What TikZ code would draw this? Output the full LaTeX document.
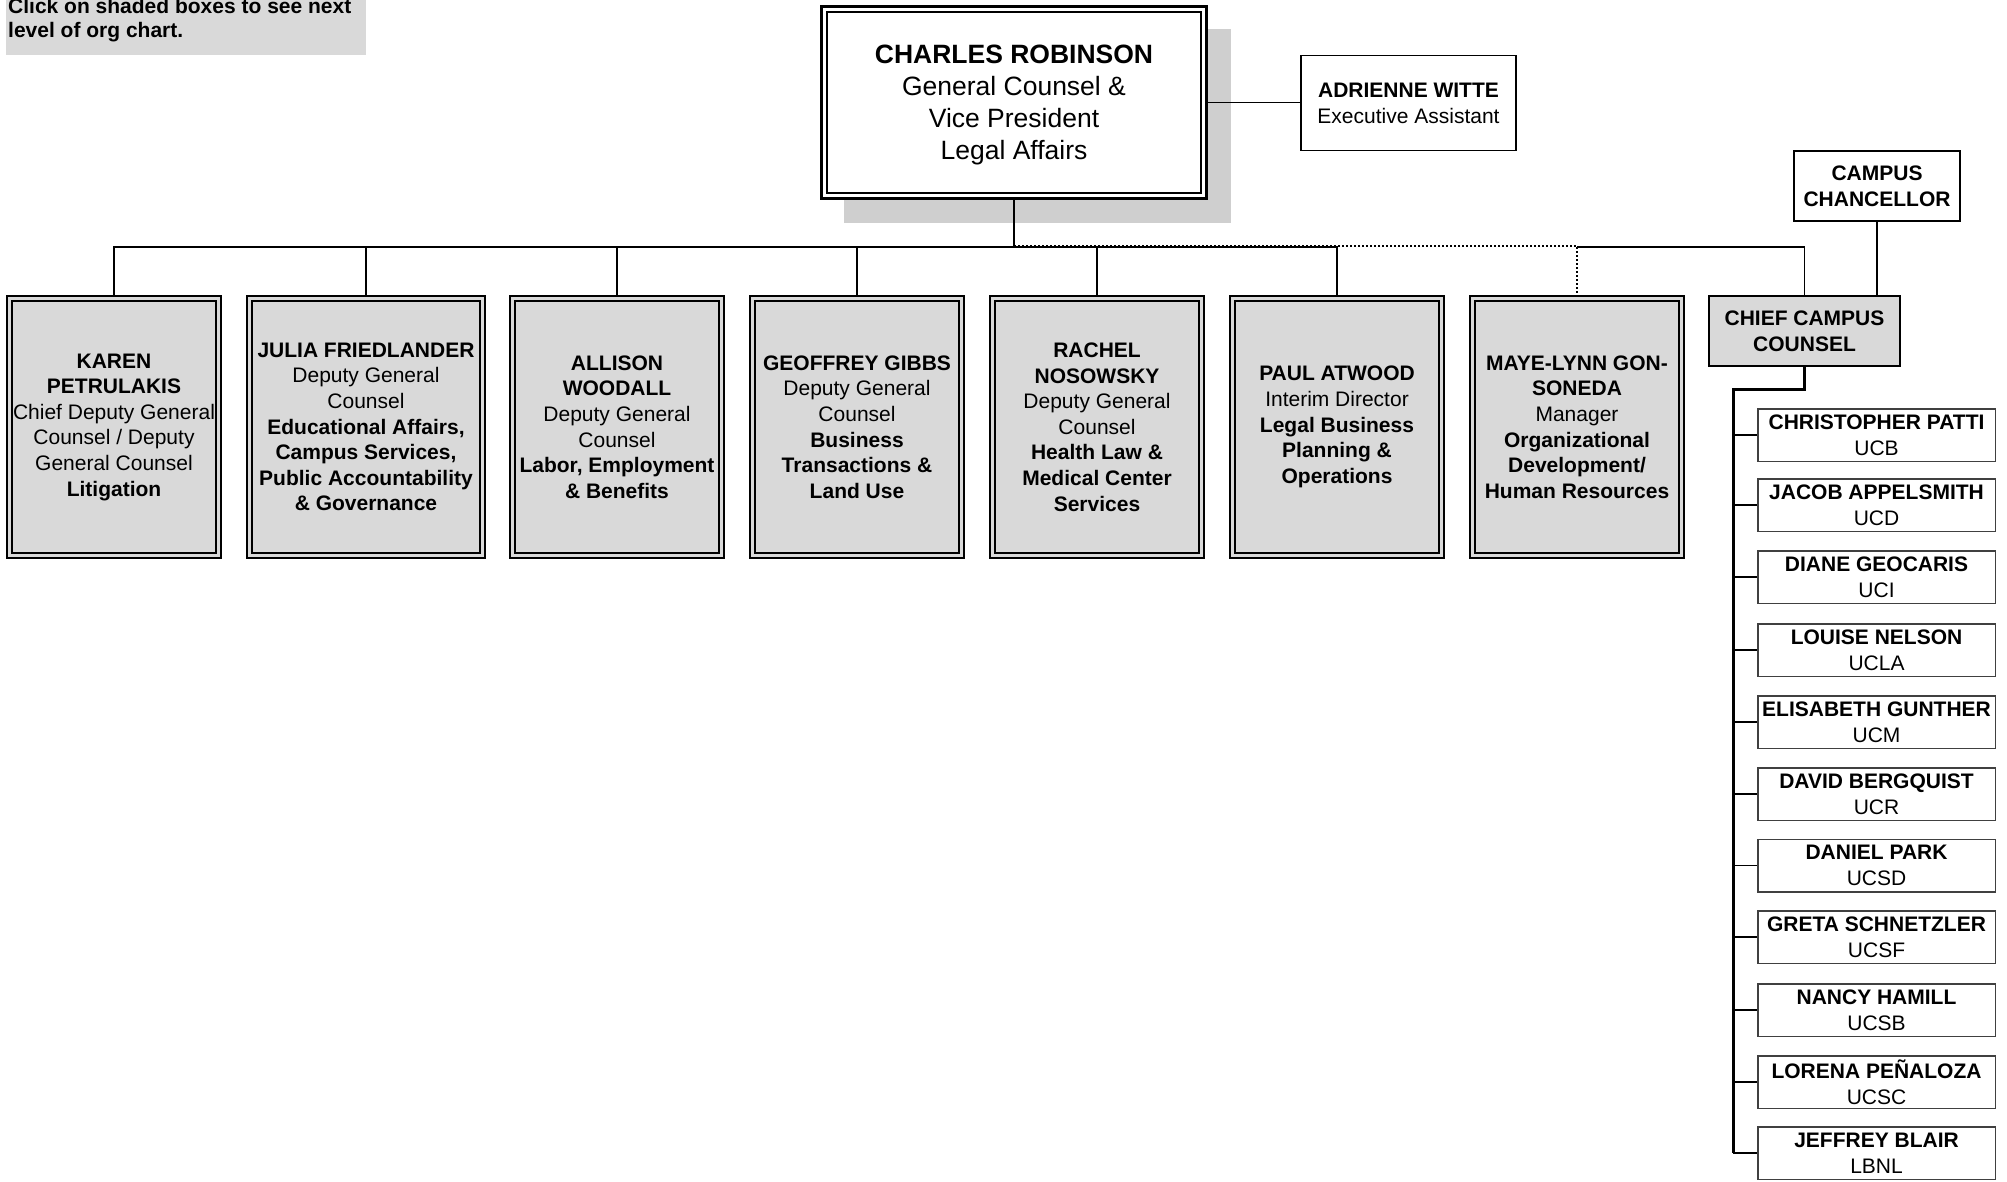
\documentclass[tikz,border=0pt]{standalone}
\usepackage{fontspec}
\setmainfont{Liberation Sans}
\pgfdeclarelayer{shadowlayer}
\pgfdeclarelayer{connlayer}
\pgfsetlayers{shadowlayer,connlayer,main}
\definecolor{boxgray}{HTML}{D9D9D9}
\definecolor{shadowgray}{HTML}{CFCFCF}
\tikzset{
  dept/.style={draw=black, line width=2pt, double=boxgray, double distance=3pt, fill=boxgray,
    minimum width=209.5pt, minimum height=257pt, inner sep=0pt, align=center,
    font=\fontsize{21}{25.6}\selectfont},
  campus/.style={draw=black!75, line width=1.5pt, fill=white, minimum width=237.5pt,
    minimum height=52.5pt, inner sep=0pt, align=center, font=\fontsize{21}{26}\selectfont},
  plainbox/.style={draw=black, line width=2pt, inner sep=0pt, align=center,
    font=\fontsize{21}{26}\selectfont},
  conn/.style={line width=1.6pt, draw=black},
  dotconn/.style={line width=1.5pt, draw=black, dash pattern=on 2pt off 2pt},
  spineconn/.style={line width=3pt, draw=black},
  notetext/.style={anchor=base west, inner sep=0pt, font=\bfseries\fontsize{21}{24}\selectfont}
}
\begin{document}
\begin{tikzpicture}[x=1pt,y=-1pt]
\useasboundingbox (0,0) rectangle (2007,1181);

% note
\node[fill=boxgray, minimum width=360pt, minimum height=57pt, inner sep=0pt] (note) at (186,26.5) {};
\node[notetext] (note1) at (8,13) {Click on shaded boxes to see next};
\node[notetext] (note2) at (8,37) {level of org chart.};

% shadow of top box
\begin{pgfonlayer}{shadowlayer}
\fill[shadowgray] (844,29) rectangle (1231,223);
\end{pgfonlayer}

% top box
\node[draw=black, line width=3pt, fill=white, minimum width=385pt, minimum height=192.3pt, inner sep=0pt] (crout) at (1014,102.3) {};
\node[draw=black, line width=2pt, minimum width=374pt, minimum height=181.3pt, inner sep=0pt] (cr) at (1014,102.3) {};
\node[inner sep=0pt, align=center, font=\fontsize{26.5}{32}\selectfont] (crtext) at (1014,104.8)
  {\textbf{CHARLES ROBINSON}\\General Counsel \&\\Vice President\\Legal Affairs};

\node[plainbox, line width=1.7pt, minimum width=215pt, minimum height=95pt] (aw) at (1408.5,103)
  {\textbf{ADRIENNE WITTE}\\Executive Assistant};

% departments
\node[dept] (d1) at (114,427) {\textbf{KAREN}\\\textbf{PETRULAKIS}\\Chief Deputy General\\Counsel / Deputy\\General Counsel\\\textbf{Litigation}};
\node[dept, minimum width=233pt] (d2) at (366,427) {\textbf{JULIA FRIEDLANDER}\\Deputy General\\Counsel\\\textbf{Educational Affairs,}\\\textbf{Campus Services,}\\\textbf{Public Accountability}\\\textbf{\& Governance}};
\node[dept] (d3) at (617,427) {\textbf{ALLISON}\\\textbf{WOODALL}\\Deputy General\\Counsel\\\textbf{Labor, Employment}\\\textbf{\& Benefits}};
\node[dept] (d4) at (857,427) {\textbf{GEOFFREY GIBBS}\\Deputy General\\Counsel\\\textbf{Business}\\\textbf{Transactions \&}\\\textbf{Land Use}};
\node[dept] (d5) at (1097,427) {\textbf{RACHEL}\\\textbf{NOSOWSKY}\\Deputy General\\Counsel\\\textbf{Health Law \&}\\\textbf{Medical Center}\\\textbf{Services}};
\node[dept] (d6) at (1337,427) {\textbf{PAUL ATWOOD}\\Interim Director\\\textbf{Legal Business}\\\textbf{Planning \&}\\\textbf{Operations}};
\node[dept] (d7) at (1577,427) {\textbf{MAYE-LYNN GON-}\\\textbf{SONEDA}\\Manager\\\textbf{Organizational}\\\textbf{Development/}\\\textbf{Human Resources}};

% campus
\node[plainbox, fill=white, minimum width=166pt, minimum height=70pt] (chan) at (1877,186)
  {\textbf{CAMPUS}\\\textbf{CHANCELLOR}};
\node[plainbox, fill=boxgray, minimum width=191pt, minimum height=70pt] (ccc) at (1804.5,331)
  {\textbf{CHIEF CAMPUS}\\\textbf{COUNSEL}};

\node[campus] (c1) at (1876.5,435) {\textbf{CHRISTOPHER PATTI}\\UCB};
\node[campus] (c2) at (1876.5,505) {\textbf{JACOB APPELSMITH}\\UCD};
\node[campus] (c3) at (1876.5,577) {\textbf{DIANE GEOCARIS}\\UCI};
\node[campus] (c4) at (1876.5,650) {\textbf{LOUISE NELSON}\\UCLA};
\node[campus] (c5) at (1876.5,722) {\textbf{ELISABETH GUNTHER}\\UCM};
\node[campus] (c6) at (1876.5,794) {\textbf{DAVID BERGQUIST}\\UCR};
\node[campus] (c7) at (1876.5,865.5) {\textbf{DANIEL PARK}\\UCSD};
\node[campus] (c8) at (1876.5,937) {\textbf{GRETA SCHNETZLER}\\UCSF};
\node[campus] (c9) at (1876.5,1010) {\textbf{NANCY HAMILL}\\UCSB};
\node[campus] (c10) at (1876.5,1082) {\textbf{LORENA PEÑALOZA}\\UCSC};
\node[campus] (c11) at (1876.5,1153) {\textbf{JEFFREY BLAIR}\\LBNL};

\coordinate (bus) at (1014,247);
\coordinate (spine) at (1733,389);

\begin{pgfonlayer}{connlayer}
\draw[conn] (crout.east) -- (crout.east -| aw.west);
\draw[conn] (crout.south) -- (bus);
\foreach \d in {d1,d2,d3,d4,d5,d6} {\draw[conn] (\d.north) |- (bus);}
\draw[dotconn] ([yshift=1pt]bus) -| (d7.north);
\draw[conn] (d7.north |- bus) -| (ccc.north);
\draw[conn] (chan.south) -- (chan.south |- ccc.north);
\draw[spineconn] (ccc.south) |- (spine) -- (spine |- c11.west);
\foreach \c in {c1,c2,c3,c4,c5,c6,c7,c8,c9,c10,c11} {\draw[conn] (spine |- \c.west) -- (\c.west);}
\end{pgfonlayer}
\end{tikzpicture}
\end{document}
